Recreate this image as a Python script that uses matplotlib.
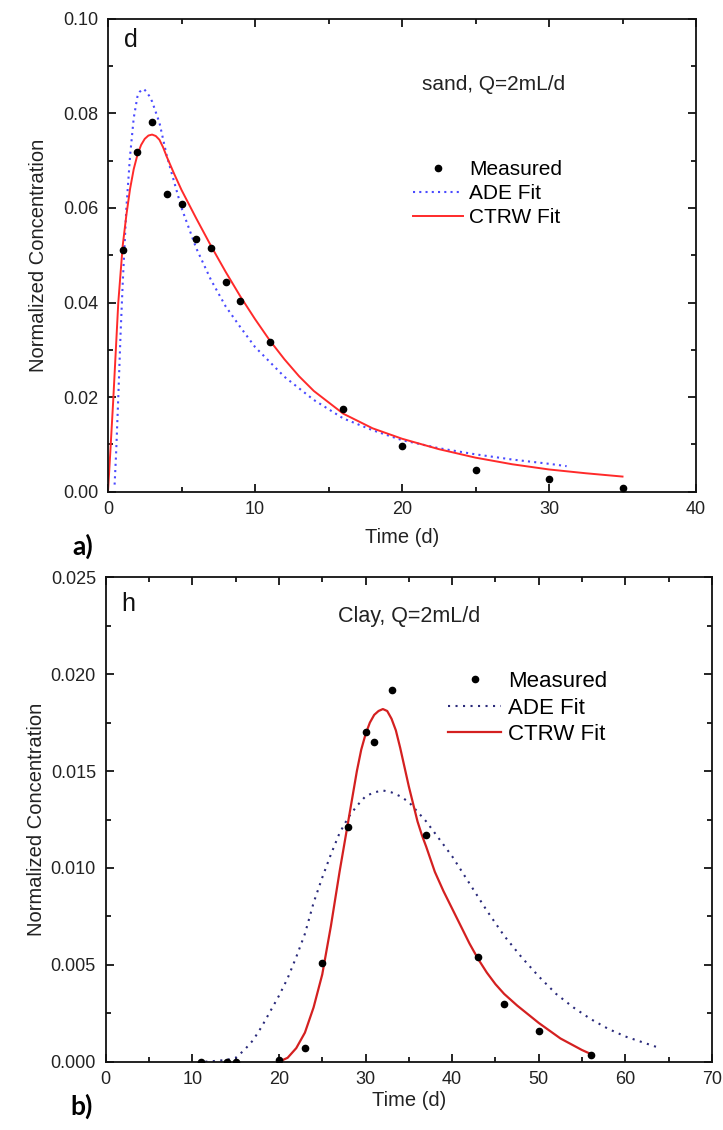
import matplotlib
matplotlib.use("Agg")
import matplotlib.pyplot as plt
from matplotlib.ticker import MultipleLocator, FormatStrFormatter

plt.rcParams['font.family'] = ['Liberation Sans', 'DejaVu Sans']

# ---------------- Panel a) sand ----------------
sand_meas_t = [1, 2, 3, 4, 5, 6, 7, 8, 9, 11, 16, 20, 25, 30, 35]
sand_meas_c = [0.0511, 0.0719, 0.0782, 0.0629, 0.0609, 0.0534, 0.0515, 0.0443,
               0.0403, 0.0317, 0.0175, 0.0097, 0.0045, 0.0027, 0.0008]

sand_ade_t = [0.45, 0.55, 0.7, 0.85, 1.0, 1.25, 1.5, 1.75, 2.0, 2.15, 2.3, 2.45,
              2.6, 2.8, 3.0, 3.5, 4.0, 4.5, 5.0, 6.0, 7.0, 8.0, 9.0, 10.0, 12.0,
              14.0, 16.0, 18.0, 20.0, 22.5, 25.0, 27.5, 30.0, 31.2]
sand_ade_c = [0.0015, 0.008, 0.020, 0.033, 0.044, 0.060, 0.071, 0.079, 0.0835,
              0.0845, 0.0850, 0.0851, 0.0846, 0.0837, 0.0825, 0.078, 0.0710, 0.0655,
              0.0600, 0.0515, 0.0448, 0.0392, 0.0348, 0.0306, 0.0243, 0.0194,
              0.0155, 0.0130, 0.0109, 0.0092, 0.0079, 0.0068, 0.0059, 0.0054]

sand_ctrw_t = [0.0, 0.15, 0.35, 0.5, 0.7, 1.0, 1.25, 1.5, 1.75, 2.0, 2.25, 2.5,
               2.75, 3.0, 3.25, 3.5, 3.75, 4.0, 4.5, 5.0, 6.0, 7.0, 8.0, 9.0, 10.0,
               11.0, 12.0, 13.0, 14.0, 16.0, 18.0, 20.0, 22.5, 25.0, 27.5, 30.0,
               32.5, 35.0]
sand_ctrw_c = [0.0, 0.008, 0.019, 0.028, 0.040, 0.052, 0.0585, 0.0640, 0.0682,
               0.0712, 0.0733, 0.0746, 0.0753, 0.0755, 0.0752, 0.0744, 0.0728,
               0.0708, 0.0672, 0.0638, 0.0578, 0.0520, 0.0465, 0.0413, 0.0365,
               0.0320, 0.0280, 0.0244, 0.0213, 0.0165, 0.0134, 0.0112, 0.0090,
               0.0072, 0.0058, 0.0047, 0.0039, 0.0032]

# ---------------- Panel b) clay ----------------
clay_meas_t = [11, 14, 15, 20, 23, 25, 28, 30, 31, 33, 37, 43, 46, 50, 56]
clay_meas_c = [0.0, 0.0, 0.0, 0.0001, 0.0007, 0.0051, 0.0121, 0.0170, 0.0165,
               0.0192, 0.0117, 0.0054, 0.0030, 0.0016, 0.00035]

clay_ade_t = [11.5, 13, 14, 15, 16, 17, 18, 19, 20, 21, 22, 23, 24, 25, 26, 27, 28,
              29, 30, 31, 32, 33, 34, 35, 36, 37, 38, 40, 42, 44, 46, 48, 50, 52,
              54, 56, 58, 60, 62, 64]
clay_ade_c = [0.0, 0.00005, 0.0001, 0.0002, 0.0006, 0.0011, 0.0018, 0.0026, 0.0034,
              0.0043, 0.0054, 0.0066, 0.0082, 0.0095, 0.0107, 0.0118, 0.0126, 0.0132,
              0.0137, 0.0139, 0.0140, 0.0139, 0.0137, 0.0134, 0.0129, 0.0124, 0.0118,
              0.0106, 0.0092, 0.0078, 0.0065, 0.0054, 0.0044, 0.0035, 0.0028, 0.0022,
              0.0017, 0.0013, 0.0010, 0.0007]

clay_ctrw_t = [20, 21, 22, 23, 24, 25, 26, 27, 28, 29, 29.5, 30, 30.5, 31, 31.5,
               32, 32.5, 33, 33.5, 34, 34.5, 35, 35.5, 36, 36.5, 37, 38, 39, 40,
               41, 42, 43, 44, 45, 46, 47.5, 50, 52.5, 55, 56]
clay_ctrw_c = [0.0, 0.0002, 0.0007, 0.0015, 0.0028, 0.0045, 0.0070, 0.0098, 0.0124,
               0.0150, 0.0161, 0.0169, 0.0175, 0.0179, 0.0181, 0.0182, 0.0181,
               0.0177, 0.0171, 0.0162, 0.0152, 0.0142, 0.0133, 0.0124, 0.0117,
               0.0111, 0.0098, 0.0088, 0.0079, 0.0070, 0.0061, 0.0053, 0.0046,
               0.0040, 0.0035, 0.0029, 0.0020, 0.0012, 0.0006, 0.0004]

W, H = 723, 1130
fig = plt.figure(figsize=(W / 100, H / 100), dpi=100)

tick_color = '#222222'
fs = 13
lab_fs = 14.5


def style_axes(ax, xmaj, xmin, ymaj, ymin, fmt):
    ax.xaxis.set_major_locator(MultipleLocator(xmaj))
    ax.xaxis.set_minor_locator(MultipleLocator(xmin))
    ax.yaxis.set_major_locator(MultipleLocator(ymaj))
    ax.yaxis.set_minor_locator(MultipleLocator(ymin))
    ax.yaxis.set_major_formatter(FormatStrFormatter(fmt))
    ax.tick_params(which='both', direction='in', top=True, right=True,
                   width=1.2, labelsize=fs, labelcolor=tick_color, pad=7)
    ax.tick_params(which='major', length=6)
    ax.tick_params(which='minor', length=3.5)
    for s in ax.spines.values():
        s.set_linewidth(1.3)
        s.set_color('#111111')


def px_axes(l, t, r, b):
    return fig.add_axes([l / W, 1 - b / H, (r - l) / W, (b - t) / H])


order = [2, 0, 1]

# ---- top panel ----
ax1 = px_axes(108, 18.7, 696, 491.7)
ax1.plot(sand_ade_t, sand_ade_c, color='#4a4aff', lw=1.5, ls=(0, (1, 2)),
         label='ADE Fit')
ax1.plot(sand_ctrw_t, sand_ctrw_c, color='#ff2a2a', lw=1.4, label='CTRW Fit')
ax1.plot(sand_meas_t, sand_meas_c, 'o', color='black', ms=4.5, label='Measured',
         zorder=5)
ax1.set_xlim(0, 40)
ax1.set_ylim(0, 0.10)
style_axes(ax1, 10, 5, 0.02, 0.01, '%.2f')
ax1.set_xlabel('Time (d)', fontsize=lab_fs, color=tick_color)
ax1.set_ylabel('Normalized Concentration', fontsize=lab_fs, color=tick_color)
ax1.yaxis.set_label_coords(-0.102, 0.5)
ax1.xaxis.set_label_coords(0.5, -0.0767)
ax1.text(0.027, 0.955, 'd', transform=ax1.transAxes, fontsize=18,
         va='center', ha='left', color='#111111')
ax1.text(0.655, 0.86, 'sand, Q=2mL/d', transform=ax1.transAxes, fontsize=15,
         va='center', ha='center', color='#222222')
h, l = ax1.get_legend_handles_labels()
ax1.legend([h[i] for i in order], [l[i] for i in order], loc='upper left',
           bbox_to_anchor=(413 / W, 1 - 160 / H), bbox_transform=fig.transFigure,
           frameon=False, fontsize=15, handlelength=2.4, handletextpad=0.3,
           labelspacing=0.25, borderpad=0, borderaxespad=0, numpoints=1)
fig.text(72 / W, 1 - 546 / H, 'a)', fontsize=19, fontweight='bold',
         family=['Lato', 'DejaVu Sans'], va='center', ha='left')

# ---- bottom panel ----
ax2 = px_axes(105.7, 577.3, 712, 1061.7)
ax2.plot(clay_ade_t, clay_ade_c, color='#2a2a7a', lw=1.5, ls=(0, (1, 2.6)),
         label='ADE Fit')
ax2.plot(clay_ctrw_t, clay_ctrw_c, color='#d42020', lw=1.6, label='CTRW Fit')
ax2.plot(clay_meas_t, clay_meas_c, 'o', color='black', ms=4.5, label='Measured',
         zorder=5)
ax2.set_xlim(0, 70)
ax2.set_ylim(0, 0.025)
style_axes(ax2, 10, 5, 0.005, 0.0025, '%.3f')
ax2.set_xlabel('Time (d)', fontsize=lab_fs, color=tick_color)
ax2.set_ylabel('Normalized Concentration', fontsize=lab_fs, color=tick_color)
ax2.yaxis.set_label_coords(-0.098, 0.5)
ax2.xaxis.set_label_coords(0.5, -0.0605)
ax2.text(0.025, 0.945, 'h', transform=ax2.transAxes, fontsize=18,
         va='center', ha='left', color='#111111')
ax2.text(0.5, 0.92, 'Clay, Q=2mL/d', transform=ax2.transAxes, fontsize=15.5,
         va='center', ha='center', color='#222222')
h, l = ax2.get_legend_handles_labels()
ax2.legend([h[i] for i in order], [l[i] for i in order], loc='upper left',
           bbox_to_anchor=(448 / W, 1 - 671 / H), bbox_transform=fig.transFigure,
           frameon=False, fontsize=16, handlelength=2.4, handletextpad=0.3,
           labelspacing=0.25, borderpad=0, borderaxespad=0, numpoints=1)
fig.text(70 / W, 1 - 1106 / H, 'b)', fontsize=19, fontweight='bold',
         family=['Lato', 'DejaVu Sans'], va='center', ha='left')

fig.savefig('out.png', dpi=100, facecolor='white')
